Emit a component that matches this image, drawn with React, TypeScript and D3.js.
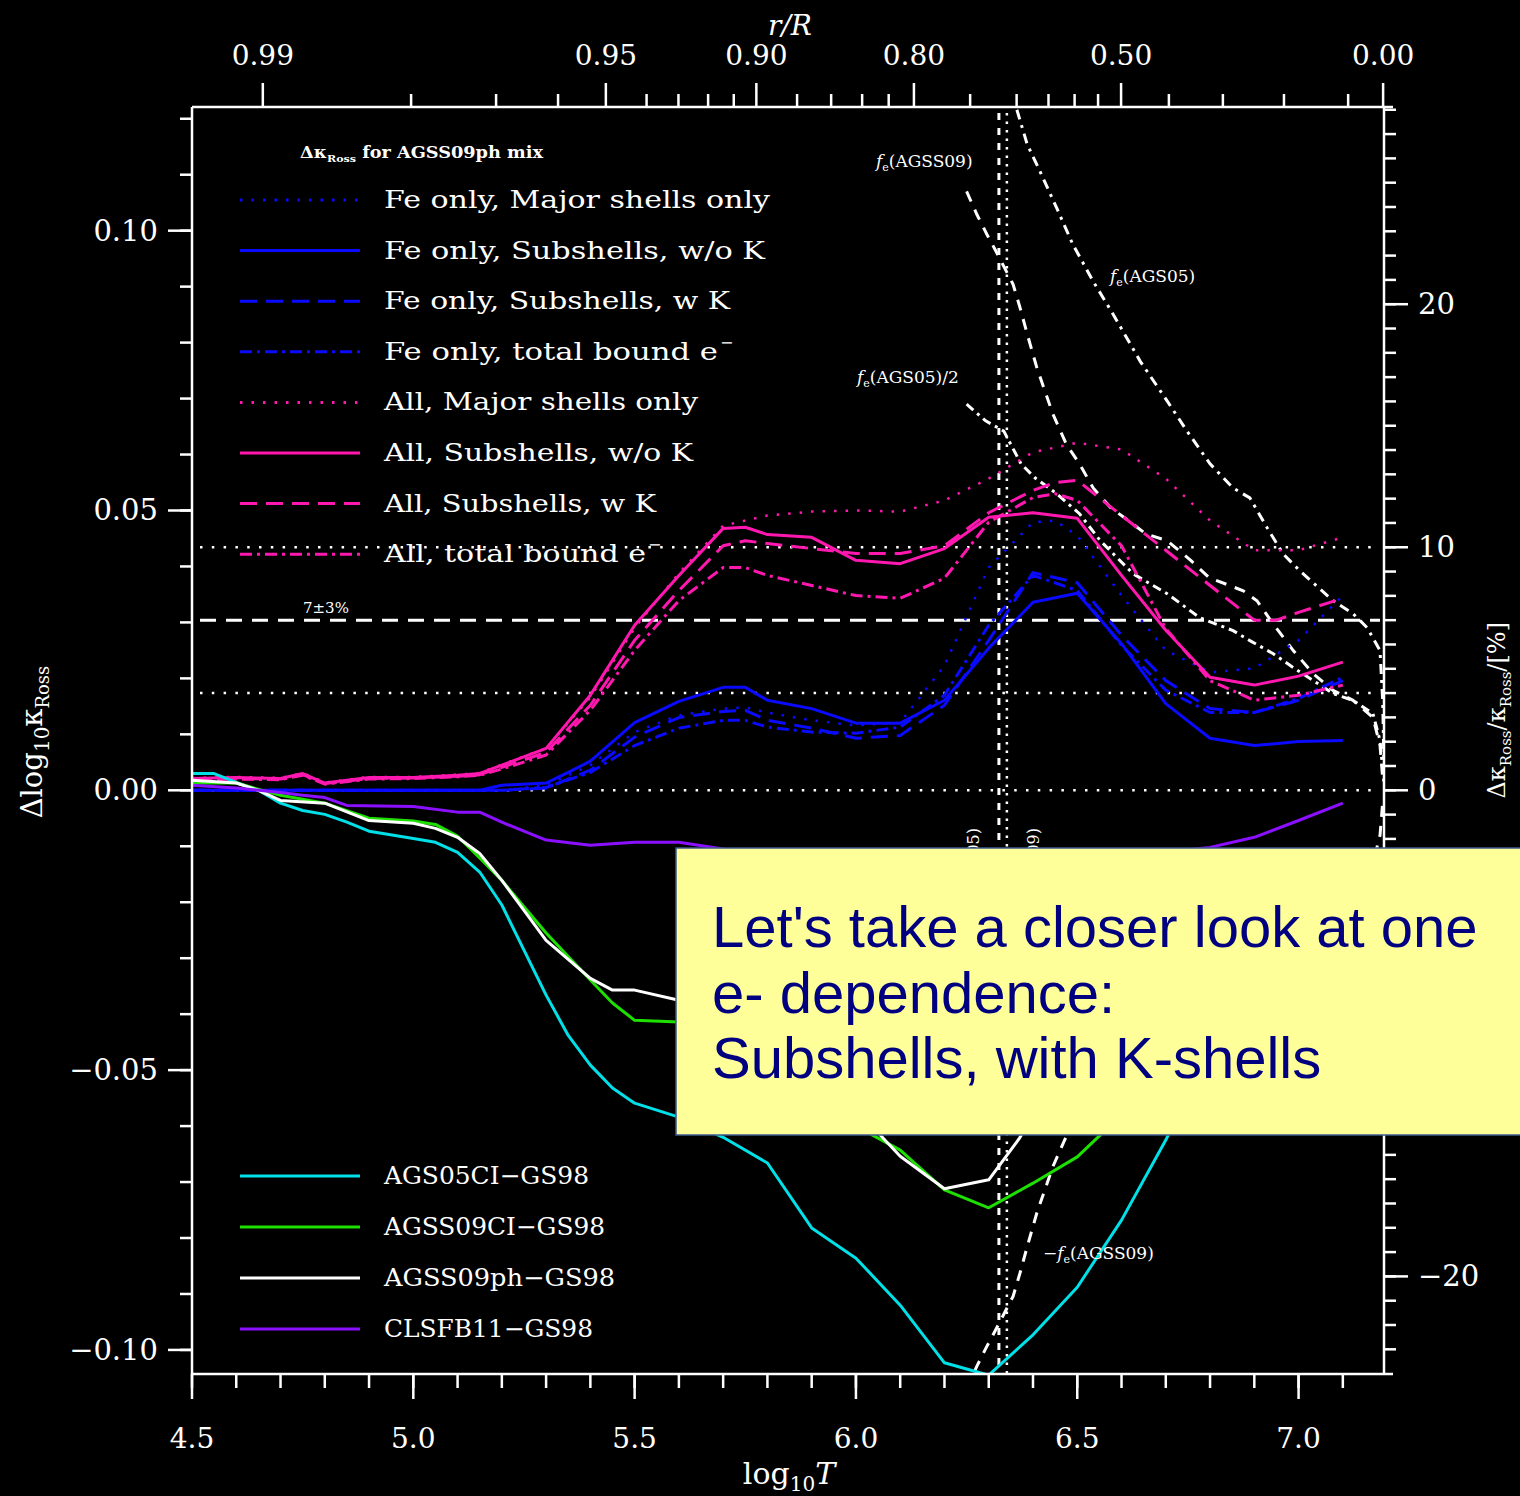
import React, { useEffect } from "react";
import * as d3 from "d3";

type Pt = [number, number];

// ---------------- data ----------------
// bottom axis (log10 T)
const bottomMajor = [4.5, 5.0, 5.5, 6.0, 6.5, 7.0];
const bottomLabels = ["4.5", "5.0", "5.5", "6.0", "6.5", "7.0"];
// left axis (Δlog10 κ)
const leftMajor = [-0.1, -0.05, 0, 0.05, 0.1];
const leftLabels = ["\u22120.10", "\u22120.05", "0.00", "0.05", "0.10"];
// right axis (%)
const rightMajor = [-20, -10, 0, 10, 20];
const rightLabels = ["\u221220", "\u221210", "0", "10", "20"];
// top axis r/R and where each lies in log T
const rTickValues = [0.99, 0.98, 0.97, 0.96, 0.95, 0.94, 0.93, 0.92, 0.91, 0.9, 0.88, 0.86, 0.84, 0.82, 0.8, 0.75, 0.7, 0.65, 0.6, 0.55, 0.5, 0.4, 0.3, 0.2, 0.1, 0.0];
const rTickLogT = [4.66, 4.995, 5.187, 5.327, 5.435, 5.527, 5.599, 5.666, 5.724, 5.775, 5.867, 5.944, 6.014, 6.074, 6.131, 6.258, 6.363, 6.435, 6.494, 6.547, 6.599, 6.707, 6.829, 6.967, 7.112, 7.191];
const rMajor = [0.99, 0.95, 0.9, 0.8, 0.5, 0.0];
const rLabels = ["0.99", "0.95", "0.90", "0.80", "0.50", "0.00"];

// convection-zone boundaries (log T)
const bczLogT = [6.323, 6.341];
// reference levels in % (7 ± 3 %, and zero)
const refLevels = [10, 7, 4, 0];

// Fe-only series
const feMajor: Pt[] = [[4.5, 0], [5.2, 0], [5.3, 0.0009], [5.4, 0.0045], [5.5, 0.0104], [5.6, 0.0134], [5.7, 0.0146], [5.75, 0.0148], [5.8, 0.0139], [5.9, 0.0125], [6.0, 0.0116], [6.1, 0.0121], [6.2, 0.0223], [6.3, 0.0398], [6.4, 0.0479], [6.45, 0.0482], [6.5, 0.0455], [6.6, 0.0348], [6.7, 0.025], [6.8, 0.0211], [6.9, 0.0218], [7.0, 0.0268], [7.1, 0.0348]];
const feSubNoK: Pt[] = [[4.5, 0], [5.15, 0], [5.2, 0.0009], [5.3, 0.0013], [5.35, 0.0032], [5.4, 0.0052], [5.5, 0.0121], [5.6, 0.0159], [5.7, 0.0184], [5.75, 0.0184], [5.8, 0.0161], [5.9, 0.0146], [6.0, 0.012], [6.1, 0.012], [6.2, 0.0161], [6.3, 0.0254], [6.4, 0.0336], [6.5, 0.0352], [6.6, 0.0262], [6.7, 0.0155], [6.8, 0.0093], [6.9, 0.008], [7.0, 0.0087], [7.1, 0.0089]];
const feSubK: Pt[] = [[4.5, 0], [5.2, 0], [5.3, 0.0004], [5.4, 0.0036], [5.5, 0.0095], [5.6, 0.013], [5.7, 0.0141], [5.75, 0.0143], [5.8, 0.0125], [5.9, 0.0111], [6.0, 0.0093], [6.1, 0.0098], [6.2, 0.0152], [6.3, 0.0268], [6.4, 0.0389], [6.5, 0.0371], [6.6, 0.0277], [6.7, 0.0196], [6.8, 0.0146], [6.9, 0.0139], [7.0, 0.0161], [7.1, 0.0196]];
const feTotal: Pt[] = [[4.5, 0], [5.2, 0], [5.3, 0.0005], [5.4, 0.0032], [5.5, 0.008], [5.6, 0.0111], [5.7, 0.0125], [5.75, 0.0125], [5.8, 0.0113], [5.9, 0.0104], [6.0, 0.0102], [6.1, 0.0113], [6.2, 0.017], [6.3, 0.0295], [6.4, 0.0384], [6.5, 0.0357], [6.6, 0.0259], [6.7, 0.0179], [6.8, 0.0139], [6.9, 0.0139], [7.0, 0.0164], [7.1, 0.0202]];

// All-element series
const allMajor: Pt[] = [[4.5, 0.0022], [4.6, 0.0024], [4.7, 0.0022], [4.75, 0.0031], [4.8, 0.0014], [4.9, 0.0024], [5.0, 0.0024], [5.1, 0.0028], [5.15, 0.0031], [5.2, 0.0046], [5.3, 0.0075], [5.4, 0.0166], [5.5, 0.029], [5.6, 0.0388], [5.7, 0.0473], [5.8, 0.0491], [5.9, 0.0498], [6.0, 0.05], [6.1, 0.0498], [6.2, 0.0518], [6.3, 0.0557], [6.4, 0.0604], [6.5, 0.0621], [6.6, 0.0609], [6.7, 0.0557], [6.8, 0.0482], [6.9, 0.0429], [7.0, 0.0429], [7.1, 0.0452]];
const allSubNoK: Pt[] = [[4.5, 0.0021], [4.6, 0.0023], [4.7, 0.0021], [4.75, 0.003], [4.8, 0.0013], [4.9, 0.0023], [5.0, 0.0023], [5.1, 0.0027], [5.15, 0.003], [5.2, 0.0045], [5.3, 0.0075], [5.4, 0.017], [5.5, 0.0295], [5.6, 0.0384], [5.7, 0.0468], [5.75, 0.047], [5.8, 0.0457], [5.9, 0.0452], [6.0, 0.0411], [6.1, 0.0405], [6.2, 0.0432], [6.3, 0.0488], [6.4, 0.0496], [6.5, 0.0486], [6.6, 0.0384], [6.7, 0.0286], [6.8, 0.0202], [6.9, 0.0188], [7.0, 0.0204], [7.1, 0.0229]];
const allSubK: Pt[] = [[4.5, 0.0019], [4.6, 0.0021], [4.7, 0.002], [4.75, 0.0028], [4.8, 0.0012], [4.9, 0.0021], [5.0, 0.0022], [5.1, 0.0025], [5.15, 0.0028], [5.2, 0.0041], [5.3, 0.0068], [5.4, 0.0152], [5.5, 0.0268], [5.6, 0.0357], [5.7, 0.0437], [5.75, 0.0446], [5.8, 0.0441], [5.9, 0.0432], [6.0, 0.0423], [6.1, 0.0423], [6.2, 0.0437], [6.3, 0.0496], [6.4, 0.0536], [6.45, 0.055], [6.5, 0.0554], [6.6, 0.0491], [6.7, 0.0429], [6.8, 0.0366], [6.9, 0.0304], [6.95, 0.0304], [7.0, 0.0318], [7.1, 0.0343]];
const allTotal: Pt[] = [[4.5, 0.0018], [4.6, 0.002], [4.7, 0.0019], [4.75, 0.0027], [4.8, 0.0011], [4.9, 0.002], [5.0, 0.0021], [5.1, 0.0024], [5.15, 0.0027], [5.2, 0.0038], [5.3, 0.0063], [5.4, 0.0143], [5.5, 0.025], [5.6, 0.0339], [5.7, 0.0398], [5.75, 0.0398], [5.8, 0.0384], [5.9, 0.0366], [6.0, 0.0348], [6.1, 0.0343], [6.2, 0.0379], [6.3, 0.0479], [6.4, 0.0523], [6.45, 0.053], [6.5, 0.0518], [6.6, 0.0437], [6.7, 0.0289], [6.8, 0.0196], [6.9, 0.0161], [7.0, 0.017], [7.1, 0.0188]];

// mixture differences
const ags05ci: Pt[] = [[4.5, 0.003], [4.55, 0.003], [4.6, 0.0014], [4.65, 0.0], [4.7, -0.0023], [4.75, -0.0036], [4.8, -0.0043], [4.85, -0.0057], [4.9, -0.0073], [5.0, -0.0086], [5.05, -0.0093], [5.1, -0.0111], [5.15, -0.0146], [5.2, -0.0205], [5.3, -0.0366], [5.35, -0.0438], [5.4, -0.0491], [5.45, -0.0532], [5.5, -0.0559], [5.6, -0.0584], [5.7, -0.062], [5.8, -0.0666], [5.9, -0.0782], [6.0, -0.0836], [6.1, -0.092], [6.2, -0.1023], [6.25, -0.1034], [6.3, -0.1045], [6.4, -0.0973], [6.5, -0.0888], [6.6, -0.0768], [6.7, -0.0625], [6.8, -0.046], [6.9, -0.032], [7.0, -0.024], [7.1, -0.019]];
const agss09ci: Pt[] = [[4.5, 0.0013], [4.6, 0.0013], [4.7, -0.0009], [4.8, -0.0023], [4.9, -0.005], [5.0, -0.0055], [5.05, -0.0061], [5.1, -0.0082], [5.15, -0.0121], [5.2, -0.0161], [5.3, -0.0255], [5.4, -0.0339], [5.45, -0.038], [5.5, -0.0411], [5.6, -0.0414], [5.7, -0.0445], [5.8, -0.049], [5.9, -0.0545], [6.0, -0.06], [6.1, -0.0643], [6.2, -0.0714], [6.3, -0.0746], [6.4, -0.0702], [6.5, -0.0655], [6.6, -0.058], [6.7, -0.048], [6.8, -0.038], [6.9, -0.03], [7.0, -0.025], [7.1, -0.022]];
const agss09ph: Pt[] = [[4.5, 0.0018], [4.6, 0.0013], [4.65, 0.0], [4.7, -0.0018], [4.8, -0.0023], [4.9, -0.0054], [5.0, -0.0059], [5.05, -0.0068], [5.1, -0.0084], [5.15, -0.0113], [5.2, -0.0161], [5.3, -0.0268], [5.4, -0.0336], [5.45, -0.0357], [5.5, -0.0357], [5.6, -0.0375], [5.7, -0.04], [5.8, -0.044], [5.9, -0.05], [6.0, -0.057], [6.1, -0.0654], [6.2, -0.0712], [6.3, -0.0696], [6.37, -0.0621], [6.4, -0.058], [6.5, -0.048], [6.6, -0.04], [6.7, -0.032], [6.8, -0.026], [6.9, -0.022], [7.0, -0.019], [7.1, -0.017]];
const clsfb11: Pt[] = [[4.5, 0.0009], [4.6, 0.0004], [4.7, -0.0004], [4.75, -0.0009], [4.8, -0.0013], [4.85, -0.0027], [5.0, -0.0029], [5.1, -0.0039], [5.15, -0.0039], [5.2, -0.0057], [5.3, -0.0089], [5.4, -0.0098], [5.5, -0.0093], [5.6, -0.0093], [5.7, -0.0105], [5.8, -0.0115], [5.9, -0.012], [6.0, -0.0125], [6.1, -0.013], [6.2, -0.0135], [6.3, -0.014], [6.4, -0.0138], [6.5, -0.013], [6.6, -0.012], [6.7, -0.011], [6.8, -0.0102], [6.9, -0.0084], [7.0, -0.0054], [7.1, -0.0023]];

// f_e curves in % (right axis)
const feAGSS09: Pt[] = [[6.25, 24.64], [6.273, 23.7], [6.296, 22.87], [6.314, 22.26], [6.355, 20.82], [6.371, 19.84], [6.387, 18.77], [6.409, 17.37], [6.445, 15.48], [6.475, 14.25], [6.505, 13.43], [6.536, 12.44], [6.576, 11.62], [6.616, 11.09], [6.655, 10.55], [6.703, 10.27], [6.757, 9.45], [6.798, 8.75], [6.875, 8.21], [6.906, 7.8], [6.942, 6.86], [6.988, 5.75], [7.033, 4.8], [7.078, 4.11], [7.123, 3.7], [7.168, 3.0], [7.184, 1.85], [7.19, 0.5]];
const feAGS05: Pt[] = [[6.35, 29.0], [6.362, 28.1], [6.387, 26.57], [6.416, 25.46], [6.454, 23.94], [6.49, 22.46], [6.536, 20.94], [6.581, 19.59], [6.642, 17.66], [6.703, 16.02], [6.748, 14.78], [6.8, 13.43], [6.852, 12.44], [6.89, 12.03], [6.929, 10.8], [6.965, 9.73], [7.003, 9.03], [7.078, 7.8], [7.123, 7.27], [7.155, 6.69], [7.184, 5.75], [7.19, 3.7], [7.193, 1.0]];
const feAGS05half: Pt[] = [[6.25, 15.89], [6.293, 15.2], [6.334, 14.78], [6.354, 14.09], [6.373, 13.43], [6.405, 12.85], [6.454, 12.2], [6.505, 11.38], [6.552, 10.27], [6.626, 8.91], [6.703, 8.09], [6.777, 7.1], [6.852, 6.57], [6.89, 6.16], [6.942, 5.63], [6.988, 5.05], [7.033, 4.52], [7.078, 3.98], [7.123, 3.7], [7.168, 3.16], [7.184, 2.05], [7.193, 0.3]];

const upperNames = ["Fe only, Major shells only", "Fe only, Subshells, w/o K", "Fe only, Subshells, w K", "Fe only, total bound e", "All, Major shells only", "All, Subshells, w/o K", "All, Subshells, w K", "All, total bound e"];
const upperData = [feMajor, feSubNoK, feSubK, feTotal, allMajor, allSubNoK, allSubK, allTotal];
const lowerNames = ["AGS05CI\u2212GS98", "AGSS09CI\u2212GS98", "AGSS09ph\u2212GS98", "CLSFB11\u2212GS98"];
const lowerData = [ags05ci, agss09ci, agss09ph, clsfb11];

// ---------------- styles ----------------
const BLUE = "#0a0aff";
const PINK = "#ff18b0";
const upperColors = [BLUE, BLUE, BLUE, BLUE, PINK, PINK, PINK, PINK];
const DOT = "2.5 9";
const DASH = "17 9";
const DASHDOT = "12 5 3 5";
const upperDash = [DOT, "", DASH, DASHDOT, DOT, "", DASH, DASHDOT];
const upperWidth = [2.5, 3, 3, 3, 2.5, 3, 3, 3];
const upperTextLen = [386, 381, 346, 334, 314, 309, 272, 262];
const lowerColors = ["#00e0e8", "#1ee000", "#ffffff", "#8a10ff"];
const lowerTextLen = [205, 221, 231, 209];
const FONT = "'DejaVu Serif', 'Liberation Serif', serif";

const L = 192, R = 1384, T = 107, B = 1374;

export default function App() {
  useEffect(() => {
    document.body.style.margin = "0";
    document.body.style.background = "#000";
  }, []);

  const x = d3.scaleLinear().domain([4.5, 7.193]).range([L, R]);
  const y = d3.scaleLinear().domain([-0.1043, 0.1221]).range([B, T]);
  const pctFactor = 0.004343;
  const yp = d3.scaleLinear().domain([-0.1043 / pctFactor, 0.1221 / pctFactor]).range([B, T]);
  const rToLogT = d3.scaleLinear().domain(rTickValues).range(rTickLogT);

  const line = d3.line<Pt>().x((d) => x(d[0])).y((d) => y(d[1]));
  const lineP = d3.line<Pt>().x((d) => x(d[0])).y((d) => yp(d[1]));

  const bottomMinor = d3.range(4.5, 7.15, 0.1);
  const leftMinor = d3.range(-0.1, 0.125, 0.01);
  const rightMinor = d3.range(-23, 29, 1);

  const W = "#ffffff";
  const upperRowY = d3.range(8).map((i) => 200 + i * 50.6);
  const lowerRowY = d3.range(4).map((i) => 1176 + i * 51);

  return (
    <div style={{ position: "absolute", left: 0, top: 0, width: 1520, height: 1496, background: "#000" }}>
      <svg width={1520} height={1496} style={{ display: "block" }}>
        <defs>
          <clipPath id="plot">
            <rect x={L} y={T} width={R - L} height={B - T} />
          </clipPath>
        </defs>
        <rect x={0} y={0} width={1520} height={1496} fill="#000" />

        {/* reference levels */}
        <g clipPath="url(#plot)">
          {refLevels.map((p, i) => (
            <line key={i} x1={L + 8} x2={R - 4} y1={yp(p)} y2={yp(p)} stroke={W}
              strokeWidth={p === 7 ? 3 : 2.5} strokeDasharray={p === 7 ? "16 10" : "2.5 9.3"} />
          ))}
          {/* convective boundary */}
          <line x1={x(bczLogT[0])} x2={x(bczLogT[0])} y1={T + 6} y2={B} stroke={W} strokeWidth={3} strokeDasharray="7 8" />
          <line x1={x(bczLogT[1])} x2={x(bczLogT[1])} y1={T + 6} y2={B} stroke={W} strokeWidth={2.5} strokeDasharray="2.5 6" />
          {/* f_e curves */}
          <path d={lineP(feAGSS09) || ""} fill="none" stroke={W} strokeWidth={3} strokeDasharray="11 9" />
          <path d={lineP(feAGSS09.map((d) => [d[0], -d[1]] as Pt)) || ""} fill="none" stroke={W} strokeWidth={3} strokeDasharray="11 9" />
          <path d={lineP(feAGS05) || ""} fill="none" stroke={W} strokeWidth={3} strokeDasharray="10 6 3 6" />
          <path d={lineP(feAGS05half) || ""} fill="none" stroke={W} strokeWidth={3} strokeDasharray="9 5 3 5" />
          {/* upper series */}
          {upperData.map((d, i) => (
            <path key={i} d={line(d) || ""} fill="none" stroke={upperColors[i]} strokeWidth={upperWidth[i]}
              strokeDasharray={upperDash[i] || undefined} strokeLinejoin="round" />
          ))}
          {/* lower series */}
          {lowerData.map((d, i) => (
            <path key={i} d={line(d) || ""} fill="none" stroke={lowerColors[i]} strokeWidth={3} strokeLinejoin="round" />
          ))}
        </g>

        {/* f_e labels */}
        <g fill={W} fontFamily={FONT} fontSize={17}>
          <text x={876} y={167}><tspan fontStyle="italic">f</tspan><tspan dy={4} fontSize={11}>e</tspan><tspan dy={-4}>(AGSS09)</tspan></text>
          <text x={1110} y={282}><tspan fontStyle="italic">f</tspan><tspan dy={4} fontSize={11}>e</tspan><tspan dy={-4}>(AGS05)</tspan></text>
          <text x={857} y={383}><tspan fontStyle="italic">f</tspan><tspan dy={4} fontSize={11}>e</tspan><tspan dy={-4}>(AGS05)/2</tspan></text>
          <text x={1043} y={1259}>{"\u2212"}<tspan fontStyle="italic">f</tspan><tspan dy={4} fontSize={11}>e</tspan><tspan dy={-4}>(AGSS09)</tspan></text>
          <text transform={`translate(${x(bczLogT[0]) - 20},828) rotate(-90)`} textAnchor="end" fontSize={16}>r(AGS05)</text>
          <text transform={`translate(${x(bczLogT[1]) + 32},828) rotate(-90)`} textAnchor="end" fontSize={16}>r(AGSS09)</text>
          <text x={303} y={613} fontSize={15}>7±3%</text>
        </g>

        {/* upper legend */}
        <g fontFamily={FONT} fill={W}>
          <text x={300} y={158} fontSize={16} fontWeight="bold" textLength={243} lengthAdjust="spacingAndGlyphs">
            Δκ<tspan dy={4} fontSize={10}>Ross</tspan><tspan dy={-4}> for AGSS09ph mix</tspan>
          </text>
          {upperNames.map((n, i) => (
            <g key={i}>
              <line x1={240} x2={360} y1={upperRowY[i]} y2={upperRowY[i]} stroke={upperColors[i]} strokeWidth={3}
                strokeDasharray={upperDash[i] || undefined} />
              <text x={384} y={upperRowY[i] + 8} fontSize={24} textLength={upperTextLen[i]} lengthAdjust="spacingAndGlyphs">{n}</text>
              {i === 3 || i === 7 ? (
                <text x={384 + upperTextLen[i] + 2} y={upperRowY[i] - 4} fontSize={16}>{"\u2212"}</text>
              ) : null}
            </g>
          ))}
          {lowerNames.map((n, i) => (
            <g key={"l" + i}>
              <line x1={240} x2={360} y1={lowerRowY[i]} y2={lowerRowY[i]} stroke={lowerColors[i]} strokeWidth={3} />
              <text x={384} y={lowerRowY[i] + 8} fontSize={24} textLength={lowerTextLen[i]} lengthAdjust="spacingAndGlyphs">{n}</text>
            </g>
          ))}
        </g>

        {/* frame */}
        <g stroke={W} strokeWidth={2.5} fill="none">
          <line x1={L} x2={L} y1={T} y2={B} />
          <line x1={R} x2={R} y1={T} y2={B} />
          <line x1={L} x2={R + 9} y1={T} y2={T} />
          <line x1={L} x2={R + 9} y1={B} y2={B} />
        </g>

        {/* bottom axis */}
        <g stroke={W} strokeWidth={2.5}>
          {bottomMinor.map((v, i) => (
            <line key={i} x1={x(v)} x2={x(v)} y1={B} y2={B + 14} />
          ))}
          {bottomMajor.map((v, i) => (
            <line key={"M" + i} x1={x(v)} x2={x(v)} y1={B} y2={B + 25} />
          ))}
        </g>
        <g fill={W} fontFamily={FONT} fontSize={28} textAnchor="middle">
          {bottomMajor.map((v, i) => (
            <text key={i} x={x(v)} y={1448}>{bottomLabels[i]}</text>
          ))}
          <text x={789} y={1484} fontSize={30}>log<tspan dy={7} fontSize={20}>10</tspan><tspan dy={-7} fontStyle="italic">T</tspan></text>
        </g>

        {/* left axis */}
        <g stroke={W} strokeWidth={2.5}>
          {leftMinor.map((v, i) => (
            <line key={i} x1={L - 12} x2={L} y1={y(v)} y2={y(v)} />
          ))}
          {leftMajor.map((v, i) => (
            <line key={"M" + i} x1={L - 24} x2={L} y1={y(v)} y2={y(v)} />
          ))}
        </g>
        <g fill={W} fontFamily={FONT} fontSize={29} textAnchor="end">
          {leftMajor.map((v, i) => (
            <text key={i} x={158} y={y(v) + 10}>{leftLabels[i]}</text>
          ))}
        </g>
        <text transform="translate(42,742) rotate(-90)" textAnchor="middle" fill={W} fontFamily={FONT} fontSize={29}>
          Δlog<tspan dy={7} fontSize={20}>10</tspan><tspan dy={-7}>κ</tspan><tspan dy={7} fontSize={18}>Ross</tspan>
        </text>

        {/* top axis (r/R) */}
        <g stroke={W} strokeWidth={2.5}>
          {rTickValues.map((r, i) => (
            <line key={i} x1={x(rToLogT(r))} x2={x(rToLogT(r))} y1={T} y2={rMajor.includes(r) ? T - 24 : T - 13} />
          ))}
        </g>
        <g fill={W} fontFamily={FONT} fontSize={28} textAnchor="middle">
          {rMajor.map((r, i) => (
            <text key={i} x={x(rToLogT(r))} y={65}>{rLabels[i]}</text>
          ))}
          <text x={790} y={35} fontStyle="italic">r/R</text>
        </g>

        {/* right axis (%) */}
        <g stroke={W} strokeWidth={2.5}>
          {rightMinor.map((v, i) => (
            <line key={i} x1={R} x2={R + 12} y1={yp(v)} y2={yp(v)} />
          ))}
          {rightMajor.map((v, i) => (
            <line key={"M" + i} x1={R} x2={R + 24} y1={yp(v)} y2={yp(v)} />
          ))}
        </g>
        <g fill={W} fontFamily={FONT} fontSize={29}>
          {rightMajor.map((v, i) => (
            <text key={i} x={1418} y={yp(v) + 10}>{rightLabels[i]}</text>
          ))}
        </g>
        <text transform="translate(1505,622) rotate(-90)" textAnchor="end" fill={W} fontFamily={FONT} fontSize={24}>
          Δκ<tspan dy={6} fontSize={15}>Ross</tspan><tspan dy={-6}>/κ</tspan><tspan dy={6} fontSize={15}>Ross</tspan><tspan dy={-6}>/[%]</tspan>
        </text>

        {/* annotation box */}
        <rect x={676} y={848} width={860} height={287} fill="#ffff99" stroke="#3b5b8f" strokeWidth={1.5} />
        <g fill="#000080" fontFamily="'Liberation Sans', Arial, sans-serif" fontSize={58}>
          <text x={712} y={947}>Let's take a closer look at one</text>
          <text x={712} y={1013}>e- dependence:</text>
          <text x={712} y={1078}>Subshells, with K-shells</text>
        </g>
      </svg>
    </div>
  );
}
